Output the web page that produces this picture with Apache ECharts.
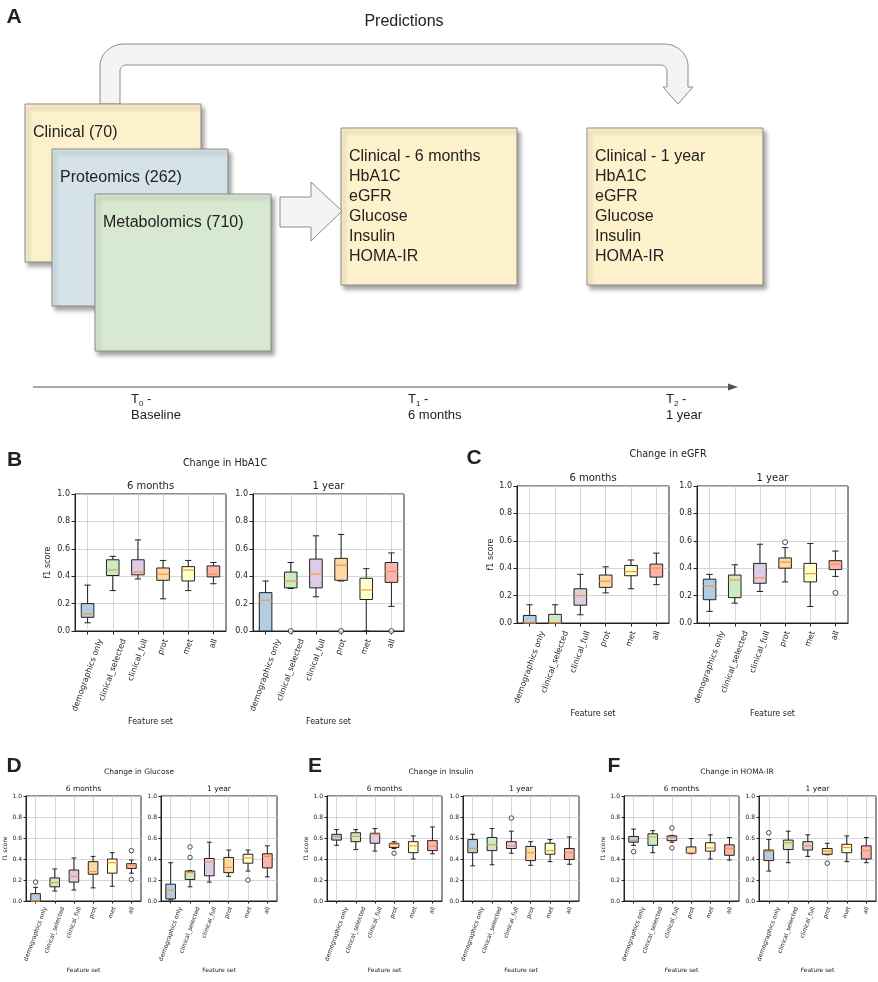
<!DOCTYPE html>
<html><head><meta charset="utf-8">
<script src="https://cdn.jsdelivr.net/npm/echarts@6/dist/echarts.min.js"></script>
<style>html,body{margin:0;padding:0;background:#fff}#c{width:878px;height:982px}</style>
</head><body><div id="c"></div>
<script>
// ---------------- data ----------------
const categories = ['demographics only', 'clinical_selected', 'clinical_full', 'prot', 'met', 'all'];
const timepoints = ['6 months', '1 year'];
const yTickValues = [0.0, 0.2, 0.4, 0.6, 0.8, 1.0];

// each row: [lower whisker, Q1, median, Q3, upper whisker]
const hba1c6m = [[0.06,0.10,0.125,0.20,0.335],[0.295,0.405,0.445,0.52,0.545],[0.38,0.41,0.43,0.52,0.665],[0.235,0.37,0.415,0.46,0.515],[0.295,0.365,0.445,0.47,0.515],[0.345,0.395,0.415,0.475,0.50]];
const hba1c1y = [[0.0,0.0,0.225,0.28,0.365],[0.31,0.315,0.365,0.43,0.50],[0.25,0.315,0.415,0.525,0.695],[0.365,0.37,0.48,0.53,0.705],[0.0,0.23,0.30,0.385,0.455],[0.18,0.355,0.435,0.50,0.57]];
const hba1c6mOut = [];
const hba1c1yOut = [['clinical_selected',0.0],['prot',0.0],['all',0.0]];

const egfr6m = [[0,0,0,0.055,0.133],[0,0,0,0.063,0.133],[0.06,0.13,0.20,0.25,0.355],[0.22,0.26,0.305,0.35,0.41],[0.25,0.345,0.375,0.42,0.46],[0.28,0.335,0.40,0.43,0.51]];
const egfr1y = [[0.085,0.17,0.27,0.32,0.355],[0.145,0.185,0.315,0.35,0.425],[0.23,0.29,0.33,0.435,0.575],[0.30,0.40,0.445,0.475,0.55],[0.12,0.30,0.36,0.435,0.58],[0.34,0.39,0.43,0.455,0.525]];
const egfr6mOut = [];
const egfr1yOut = [['prot',0.59],['all',0.22]];

const glucose6m = [[0,0,0,0.07,0.13],[0.095,0.135,0.175,0.22,0.305],[0.105,0.18,0.235,0.295,0.41],[0.125,0.255,0.28,0.375,0.425],[0.14,0.265,0.365,0.40,0.46],[0.265,0.31,0.345,0.355,0.39]];
const glucose1y = [[0.01,0.02,0.105,0.16,0.365],[0.135,0.205,0.27,0.285,0.29],[0.18,0.24,0.37,0.405,0.56],[0.235,0.27,0.32,0.415,0.485],[0.285,0.36,0.41,0.445,0.485],[0.23,0.315,0.425,0.45,0.525]];
const glucose6mOut = [['demographics only',0.18],['all',0.48],['all',0.205]];
const glucose1yOut = [['clinical_selected',0.415],['clinical_selected',0.515],['met',0.20]];

const insulin6m = [[0.53,0.58,0.615,0.635,0.68],[0.49,0.565,0.615,0.65,0.68],[0.475,0.55,0.635,0.645,0.69],[0.50,0.51,0.54,0.55,0.565],[0.40,0.46,0.525,0.565,0.62],[0.45,0.48,0.525,0.575,0.705]];
const insulin1y = [[0.335,0.46,0.50,0.585,0.635],[0.345,0.48,0.535,0.605,0.69],[0.455,0.50,0.525,0.565,0.665],[0.34,0.385,0.46,0.52,0.565],[0.375,0.445,0.48,0.55,0.585],[0.35,0.395,0.46,0.50,0.61]];
const insulin6mOut = [['prot',0.455]];
const insulin1yOut = [['clinical_full',0.79]];

const homa6m = [[0.53,0.56,0.575,0.615,0.685],[0.46,0.53,0.61,0.64,0.67],[0.56,0.575,0.60,0.62,0.625],[0.45,0.455,0.46,0.515,0.595],[0.40,0.475,0.505,0.555,0.63],[0.39,0.435,0.50,0.535,0.605]];
const homa1y = [[0.285,0.385,0.47,0.485,0.585],[0.365,0.49,0.555,0.58,0.665],[0.425,0.485,0.525,0.565,0.63],[0.44,0.445,0.475,0.50,0.55],[0.375,0.46,0.51,0.54,0.62],[0.365,0.40,0.48,0.525,0.605]];
const homa6mOut = [['demographics only',0.47],['clinical_full',0.695],['clinical_full',0.505]];
const homa1yOut = [['demographics only',0.65],['prot',0.36]];

const panels = [
  {letter:'B', title:'Change in HbA1C', boxes:[hba1c6m, hba1c1y], outliers:[hba1c6mOut, hba1c1yOut]},
  {letter:'C', title:'Change in eGFR', boxes:[egfr6m, egfr1y], outliers:[egfr6mOut, egfr1yOut]},
  {letter:'D', title:'Change in Glucose', boxes:[glucose6m, glucose1y], outliers:[glucose6mOut, glucose1yOut]},
  {letter:'E', title:'Change in Insulin', boxes:[insulin6m, insulin1y], outliers:[insulin6mOut, insulin1yOut]},
  {letter:'F', title:'Change in HOMA-IR', boxes:[homa6m, homa1y], outliers:[homa6mOut, homa1yOut]}
];

// diagram texts (panel A)
const inputBlocks = ['Clinical (70)', 'Proteomics (262)', 'Metabolomics (710)'];
const targets6m = ['Clinical - 6 months', 'HbA1C', 'eGFR', 'Glucose', 'Insulin', 'HOMA-IR'];
const targets1y = ['Clinical - 1 year', 'HbA1C', 'eGFR', 'Glucose', 'Insulin', 'HOMA-IR'];

// ---------------- layout / style ----------------
const big = {tick:8, sub:10, title:9.6, name:8, margin:7, tickLen:3.5};
const small = {tick:6, sub:7.5, title:7.5, name:6, margin:5, tickLen:2.5};
const layouts = [
  {lp:[14.5,460], tp:[225,463], subY:486, grids:[[75,494,151,137],[253,494,151,137]], f:big, yGap:23, xGap:87},
  {lp:[474,458], tp:[668,454], subY:478, grids:[[517,486,152,137],[697,486,151,137]], f:big, yGap:22, xGap:87},
  {lp:[14,766], tp:[139,772], subY:789, grids:[[26,796,115,105],[161,796,116,105]], f:small, yGap:16, xGap:66},
  {lp:[315,766], tp:[441,772], subY:789, grids:[[327,796,115,105],[463,796,116,105]], f:small, yGap:17, xGap:66},
  {lp:[614,766], tp:[737,772], subY:789, grids:[[624,796,115,105],[759,796,117,105]], f:small, yGap:17, xGap:66}
];
const palette = ['#b3cde3','#ccebc5','#decbe4','#fed9a6','#ffffcc','#fbb4ae'];
const medianColor = '#f39a3d';
const ink = '#222';
const FONT = 'DejaVu Sans';
const SANS = 'Liberation Sans';

const mctx = document.createElement('canvas').getContext('2d');
function textWidth(t, fs) { mctx.font = fs + 'px "DejaVu Sans"'; return mctx.measureText(t).width; }
const R = Math.PI / 180, c70 = Math.cos(70 * R), s70 = Math.sin(70 * R);
function labelRich(fs) {
  const rich = {};
  categories.forEach((c, i) => {
    const L = textWidth(c, fs);
    const s = (L * s70 + fs * c70) / 2;
    rich['r' + i] = {fontSize: fs, fontFamily: FONT, color: ink, padding: [2 * s * c70, 2 * s * s70, 0, 0]};
  });
  return rich;
}

function renderBox(params, api) {
  const i = api.value(0);
  const lo = api.coord([i, api.value(1)]), q1 = api.coord([i, api.value(2)]),
        md = api.coord([i, api.value(3)]), q3 = api.coord([i, api.value(4)]), hi = api.coord([i, api.value(5)]);
  const cx = lo[0];
  const bw = api.size([1, 0])[0] * 0.5;
  const cap = bw * 0.5;
  const ls = {stroke: ink, lineWidth: 1};
  return {type: 'group', children: [
    {type: 'line', shape: {x1: cx, y1: lo[1], x2: cx, y2: q1[1]}, style: ls},
    {type: 'line', shape: {x1: cx, y1: q3[1], x2: cx, y2: hi[1]}, style: ls},
    {type: 'line', shape: {x1: cx - cap / 2, y1: lo[1], x2: cx + cap / 2, y2: lo[1]}, style: ls},
    {type: 'line', shape: {x1: cx - cap / 2, y1: hi[1], x2: cx + cap / 2, y2: hi[1]}, style: ls},
    {type: 'rect', shape: {x: cx - bw / 2, y: q3[1], width: bw, height: q1[1] - q3[1]}, style: {fill: palette[i], stroke: ink, lineWidth: 1}},
    {type: 'line', shape: {x1: cx - bw / 2, y1: md[1], x2: cx + bw / 2, y2: md[1]}, style: {stroke: medianColor, lineWidth: 1.2}}
  ]};
}

const grid = [], xAxis = [], yAxis = [], series = [], graphic = [];
function txt(x, y, text, fs, opts) {
  opts = opts || {};
  return {type: 'text', x: x, y: y, z: 100, style: Object.assign({
    text: text, fontSize: fs, fontFamily: opts.family || FONT, fontWeight: opts.weight || 'normal',
    fill: ink, align: opts.align || 'center', verticalAlign: 'middle',
    textAlign: opts.align || 'center', textVerticalAlign: 'middle'
  }, opts.style || {})};
}

panels.forEach((p, pi) => {
  const lay = layouts[pi], f = lay.f;
  graphic.push(txt(lay.lp[0], lay.lp[1], p.letter, 21, {family: SANS, weight: 'bold'}));
  graphic.push(txt(lay.tp[0], lay.tp[1], p.title, f.title));
  lay.grids.forEach((g, k) => {
    const gi = grid.length;
    grid.push({left: g[0], top: g[1], width: g[2], height: g[3], show: true, borderColor: ink, borderWidth: 1,
               backgroundColor: 'rgba(0,0,0,0)', containLabel: false, outerBoundsMode: 'none'});
    graphic.push(txt(g[0] + g[2] / 2, lay.subY, timepoints[k], f.sub));
    xAxis.push({
      gridIndex: gi, type: 'category', data: categories, boundaryGap: true,
      axisLine: {show: true, lineStyle: {color: ink, width: 1}},
      axisTick: {show: true, alignWithLabel: true, interval: 0, length: f.tickLen, lineStyle: {color: ink}},
      splitLine: {show: true, alignWithLabel: true, interval: 0, lineStyle: {color: '#cccccc', width: 0.8}},
      axisLabel: {interval: 0, rotate: 70, align: 'center', verticalAlign: 'middle', margin: f.margin,
                  formatter: (v, i) => '{r' + i + '|' + v + '}', rich: labelRich(f.tick)},
      name: 'Feature set', nameLocation: 'middle', nameGap: lay.xGap,
      nameTextStyle: {fontSize: f.name, fontFamily: FONT, color: ink}
    });
    yAxis.push({
      gridIndex: gi, type: 'value', min: 0, max: 1, interval: 0.2,
      axisLine: {show: true, lineStyle: {color: ink, width: 1}},
      axisTick: {show: true, length: f.tickLen, lineStyle: {color: ink}},
      axisLabel: {fontSize: f.tick, fontFamily: FONT, color: ink, margin: f.tickLen + 1.5, formatter: v => v.toFixed(1)},
      splitLine: {show: true, lineStyle: {color: '#cccccc', width: 0.8}},
      name: k === 0 ? 'f1 score' : '', nameLocation: 'middle', nameGap: lay.yGap, nameRotate: 90,
      nameTextStyle: {fontSize: f.name, fontFamily: FONT, color: ink}
    });
    series.push({
      type: 'custom', xAxisIndex: gi, yAxisIndex: gi, renderItem: renderBox, z: 3,
      encode: {x: 0, y: [1, 2, 3, 4, 5]},
      data: p.boxes[k].map((b, i) => [i].concat(b))
    });
    if (p.outliers[k].length) {
      series.push({
        type: 'scatter', xAxisIndex: gi, yAxisIndex: gi, clip: false, z: 4,
        symbol: 'circle', symbolSize: f === big ? 5 : 4.5,
        itemStyle: {color: '#fff', borderColor: ink, borderWidth: 1},
        data: p.outliers[k]
      });
    }
  });
});

// ---------------- panel A diagram ----------------
const stroke = '#8c8c8c';
const shadow = {shadowBlur: 4, shadowOffsetX: 3, shadowOffsetY: 4, shadowColor: 'rgba(0,0,0,0.35)'};
function arc(cx, cy, rx, ry, a0, a1) {
  const pts = [];
  for (let k = 0; k <= 10; k++) {
    const a = (a0 + (a1 - a0) * k / 10) * R;
    pts.push([cx + rx * Math.cos(a), cy + ry * Math.sin(a)]);
  }
  return pts;
}
const bentArrow = [].concat(
  [[100, 104]], arc(124, 66, 24, 22, 180, 270), arc(664, 66, 24, 22, 270, 360),
  [[688, 87], [693, 87], [678, 104], [663, 87], [667, 87]],
  arc(661, 71, 6, 6, 0, -90), arc(126, 71, 6, 6, 270, 180), [[120, 104]]
);
graphic.push(txt(14, 17, 'A', 21, {family: SANS, weight: 'bold'}));
graphic.push(txt(404, 22, 'Predictions', 16, {family: SANS}));
graphic.push({type: 'polygon', z: 50, shape: {points: bentArrow},
  style: {fill: '#f4f4f4', stroke: stroke, lineWidth: 1}});
const blockFills = ['#fdf1cc', '#d5e3e8', '#d8e9d2'];
const blockRects = [[25,104,176,158],[52,149,176,157],[95,194,176,157]];
inputBlocks.forEach((t, i) => {
  const r = blockRects[i];
  graphic.push({type: 'rect', z: 51 + i, shape: {x: r[0], y: r[1], width: r[2], height: r[3]},
    style: Object.assign({fill: blockFills[i], stroke: stroke, lineWidth: 1}, shadow)});
  graphic.push(Object.assign(txt(r[0] + 8, r[1] + 29, t, 16, {family: SANS, align: 'left'}), {z: 61 + i}));
});
graphic.push({type: 'polygon', z: 55, shape: {points: [[280,197],[311,197],[311,182],[342,211],[311,241],[311,227],[280,227]]},
  style: {fill: '#f4f4f4', stroke: stroke, lineWidth: 1}});
[[341, targets6m], [587, targets1y]].forEach(([x0, lines]) => {
  graphic.push({type: 'rect', z: 51, shape: {x: x0, y: 128, width: 176, height: 157},
    style: Object.assign({fill: '#fef2cc', stroke: stroke, lineWidth: 1}, shadow)});
  lines.forEach((t, j) => graphic.push(txt(x0 + 8, 157 + 20 * j, t, 16, {family: SANS, align: 'left'})));
});
graphic.push({type: 'line', z: 50, shape: {x1: 33, y1: 387, x2: 730, y2: 387}, style: {stroke: '#555', lineWidth: 1.2}});
graphic.push({type: 'polygon', z: 50, shape: {points: [[728, 383.5], [738, 387], [728, 390.5]]}, style: {fill: '#555'}});
const timeLabels = [[131, '0', 'Baseline'], [408, '1', '6 months'], [666, '2', '1 year']];
timeLabels.forEach(([x, sub, lab]) => {
  graphic.push({type: 'text', x: x, y: 399, z: 100, style: {
    text: '{t|T}{s|' + sub + '}{t| -}', align: 'left', verticalAlign: 'middle', fill: ink,
    rich: {t: {fontSize: 13, fontFamily: SANS, lineHeight: 18, color: ink},
           s: {fontSize: 8, fontFamily: SANS, lineHeight: 8, verticalAlign: 'bottom', color: ink}}}});
  graphic.push(txt(x, 415, lab, 13, {family: SANS, align: 'left'}));
});

const chart = echarts.init(document.getElementById('c'), null, {renderer: 'canvas', width: 878, height: 982});
chart.setOption({
  backgroundColor: '#ffffff',
  animation: false,
  grid: grid, xAxis: xAxis, yAxis: yAxis, series: series, graphic: graphic
});
</script></body></html>
